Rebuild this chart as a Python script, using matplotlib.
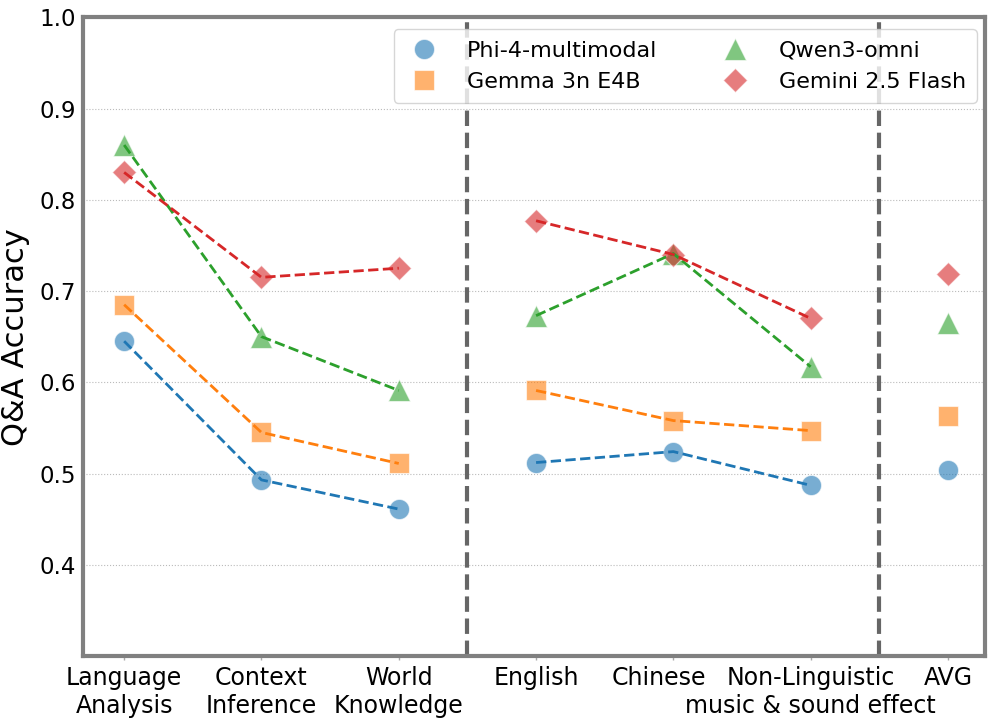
import matplotlib
matplotlib.use("Agg")
import matplotlib.pyplot as plt
import matplotlib.transforms as mtransforms
import numpy as np

categories = ["Language\nAnalysis", "Context\nInference", "World\nKnowledge",
              "English", "Chinese", "Non-Linguistic\nmusic & sound effect", "AVG"]
models = ["Phi-4-multimodal", "Gemma 3n E4B", "Qwen3-omni", "Gemini 2.5 Flash"]
phi = [0.645, 0.493, 0.461, 0.512, 0.524, 0.487, 0.504]
gemma = [0.685, 0.545, 0.511, 0.591, 0.558, 0.547, 0.563]
qwen = [0.860, 0.650, 0.591, 0.673, 0.741, 0.617, 0.665]
gemini = [0.830, 0.715, 0.725, 0.777, 0.740, 0.670, 0.719]
series = [phi, gemma, qwen, gemini]
groups = [[0, 1, 2], [3, 4, 5]]
separators = [2.5, 5.5]
yticks = [0.4, 0.5, 0.6, 0.7, 0.8, 0.9, 1.0]

colors = ["#1f77b4", "#ff7f0e", "#2ca02c", "#d62728"]
markers = ["o", "s", "^", "D"]
msizes = [14.5, 14, 16, 12.7]

fig = plt.figure(figsize=(9.96, 7.2), dpi=100)
ax = fig.add_axes([0.0833, 0.0889, 0.9057, 0.8871])

x = np.arange(len(categories))
for vals, c, m, ms, name in zip(series, colors, markers, msizes, models):
    ax.plot(x, vals, linestyle="none", marker=m, markersize=ms, color=c,
            markeredgecolor="white", markeredgewidth=0.8,
            alpha=0.6, label=name, zorder=3)
    for g in groups:
        ax.plot(x[g], [vals[i] for i in g], linestyle="--", color=c, lw=2, zorder=4)

for s in separators:
    ax.axvline(s, color="#666666", lw=3, ls="--", zorder=2)

ax.set_xlim(-0.3, 6.27)
ax.set_ylim(0.3, 1.0)
ax.set_yticks(yticks)
ax.set_xticks(x)
ax.set_xticklabels(categories, fontsize=17)
ax.tick_params(axis="y", labelsize=16.5, length=0, pad=5)
ax.tick_params(axis="x", color="#aaaaaa", width=1, length=3, pad=4)
# the "Chinese" label sits slightly left of its tick in the reference
lab = ax.get_xticklabels()[4]
lab.set_transform(lab.get_transform() +
                  mtransforms.ScaledTranslation(-0.14, 0, fig.dpi_scale_trans))
ax.set_ylabel("Q&A Accuracy", fontsize=22, labelpad=7)
ax.yaxis.grid(True, linestyle=":", color="#bbbbbb", lw=0.8, zorder=0)
ax.set_axisbelow(True)
for sp in ax.spines.values():
    sp.set_color("#808080")
    sp.set_linewidth(3)

ax.legend(loc="upper right", ncol=2, fontsize=16, frameon=True,
          handlelength=1.7, handletextpad=1.1, columnspacing=2.65,
          borderpad=0.5, labelspacing=0.5, borderaxespad=0,
          bbox_to_anchor=(0.991, 0.981))

fig.savefig("out.png", dpi=100)
